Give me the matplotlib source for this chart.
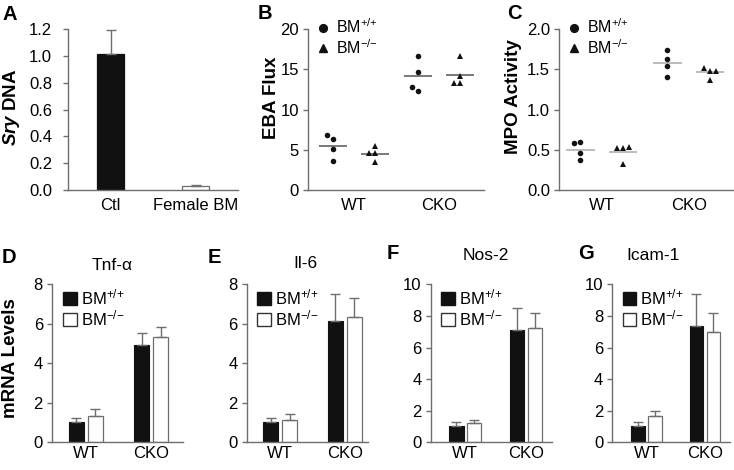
import numpy as np
import matplotlib
matplotlib.use("Agg")
import matplotlib.pyplot as plt
from matplotlib.lines import Line2D
from matplotlib.patches import Patch

plt.rcParams['font.family'] = ['Liberation Sans', 'DejaVu Sans']
plt.rcParams['mathtext.fontset'] = 'custom'
plt.rcParams['mathtext.rm'] = 'Liberation Sans'
plt.rcParams['mathtext.it'] = 'Liberation Sans:italic'
plt.rcParams['mathtext.bf'] = 'Liberation Sans:bold'
plt.rcParams['mathtext.bfit'] = 'Liberation Sans:italic:bold'

# ---- data ----
sry_groups = ['Ctl', 'Female BM']
sry_mean = [1.01, 0.03]
sry_err = [0.18, 0.01]

groups = ['WT', 'CKO']
lbl_pp = r'BM$^{{+}/{+}}$'
lbl_mm = r'BM$^{{-}/{-}}$'

# panel B, EBA flux (individual animals)
eba_pp = {'WT': [6.3, 6.8, 5.05, 3.6], 'CKO': [16.7, 14.6, 12.3, 12.8]}
eba_mm = {'WT': [5.5, 4.55, 4.55, 3.5], 'CKO': [16.6, 14.1, 13.3, 13.3]}

# panel C, MPO activity
mpo_pp = {'WT': [0.60, 0.58, 0.46, 0.37], 'CKO': [1.74, 1.63, 1.54, 1.40]}
mpo_mm = {'WT': [0.52, 0.52, 0.53, 0.32], 'CKO': [1.48, 1.51, 1.48, 1.37]}

# panels D-G, mRNA levels (mean, sem) for WT and CKO
genes = ['Tnf-α', 'Il-6', 'Nos-2', 'Icam-1']
mrna_pp = {'Tnf-α': [1.04, 4.91], 'Il-6': [1.01, 6.14],
           'Nos-2': [1.01, 7.12], 'Icam-1': [1.01, 7.33]}
mrna_pp_err = {'Tnf-α': [0.21, 0.63], 'Il-6': [0.24, 1.35],
               'Nos-2': [0.30, 1.36], 'Icam-1': [0.25, 2.04]}
mrna_mm = {'Tnf-α': [1.35, 5.35], 'Il-6': [1.11, 6.33],
           'Nos-2': [1.22, 7.26], 'Icam-1': [1.64, 6.95]}
mrna_mm_err = {'Tnf-α': [0.35, 0.47], 'Il-6': [0.31, 0.96],
               'Nos-2': [0.21, 0.91], 'Icam-1': [0.32, 1.26]}

W, H = 734, 470
fig = plt.figure(figsize=(W / 100, H / 100), dpi=100)

GRAY = '#6e6e6e'
FS = 12


def add_ax(l, t, r, b):
    return fig.add_axes([l / W, 1 - b / H, (r - l) / W, (b - t) / H])


def style(ax, xpad=5, ypad=3):
    for s in ['top', 'right']:
        ax.spines[s].set_visible(False)
    for s in ['left', 'bottom']:
        ax.spines[s].set_color(GRAY)
        ax.spines[s].set_linewidth(1.0)
    ax.tick_params(axis='x', length=0, pad=xpad, labelsize=FS)
    ax.tick_params(axis='y', length=3.5, width=1, color=GRAY, pad=ypad, labelsize=FS)


def swarm(ax, x0, ys, step_px=6.0, min_px=5.0):
    # simple beeswarm so that overlapping points are spread sideways
    px_x = ax.transData.transform((1, 0))[0] - ax.transData.transform((0, 0))[0]
    placed, xs = [], []
    for y in ys:
        yp = ax.transData.transform((0, y))[1]
        for k in [0, -1, 1, -2, 2]:
            if all(np.hypot(k * step_px - a, yp - b) >= min_px for a, b in placed):
                break
        placed.append((k * step_px, yp))
        xs.append(x0 + k * step_px / px_x)
    return xs


def letter(x, y, s):
    fig.text(x / W, 1 - y / H, s, fontsize=14.5, fontweight='bold', ha='left', va='top')


def ylab(x, y, s):
    fig.text(x / W, 1 - y / H, s, fontsize=13.5, fontweight='bold', rotation=90,
             ha='center', va='center')


# ---- A ----
ax = add_ax(68, 29, 238, 190)
style(ax, xpad=5.5, ypad=8)
xa = np.arange(len(sry_groups))
ax.bar(xa, sry_mean, width=0.32, color=['#111111', 'white'],
       edgecolor=['#111111', GRAY], linewidth=0.9)
ax.errorbar(xa, sry_mean, yerr=[np.zeros(2), sry_err], fmt='none',
            ecolor=GRAY, elinewidth=1, capsize=3.5, capthick=1)
ax.set_xlim(-0.5, 1.5)
ax.set_ylim(0, 1.2)
ax.set_yticks(np.arange(0, 1.21, 0.2))
ax.set_yticklabels(['%.1f' % v for v in np.arange(0, 1.21, 0.2)])
ax.set_xticks(xa)
ax.set_xticklabels(sry_groups)
letter(3, 5, 'A')
ylab(11, 107, r'$\mathbfit{Sry}$ DNA')


# ---- B and C ----
def dot_panel(rect, pp, mm, ylim, yticks, fmt, line_color, xlim, lab, lab_xy, let, let_xy):
    ax = add_ax(*rect)
    style(ax, xpad=5.5, ypad=3)
    ax.set_xlim(*xlim)
    ax.set_ylim(*ylim)
    for i, g in enumerate(groups):
        for vals, dx, mk in [(pp[g], -0.245, 'o'), (mm[g], 0.245, '^')]:
            x0 = i + dx
            xs = swarm(ax, x0, vals)
            ax.plot(xs, vals, mk, color='#111111', markersize=4.0 if mk == 'o' else 4.4,
                    markeredgewidth=0, zorder=3)
            ax.hlines(np.mean(vals), x0 - 0.165, x0 + 0.165, color=line_color,
                      linewidth=1.1, zorder=2)
    ax.set_yticks(yticks)
    ax.set_yticklabels([fmt % v for v in yticks])
    ax.set_xticks(range(len(groups)))
    ax.set_xticklabels(groups)
    handles = [Line2D([], [], marker='o', ls='none', color='#111111', markersize=5.6),
               Line2D([], [], marker='^', ls='none', color='#111111', markersize=5.6)]
    ax.legend(handles, [lbl_pp, lbl_mm], loc='upper left', bbox_to_anchor=(0.02, 1.09),
              frameon=False, fontsize=11.5, handlelength=1.0, handletextpad=0.35,
              labelspacing=0.1, borderpad=0.2, borderaxespad=0)
    letter(*let_xy, let)
    ylab(*lab_xy, lab)
    return ax


dot_panel((308, 29, 484, 190), eba_pp, eba_mm, (0, 20), [0, 5, 10, 15, 20], '%d',
          '#555555', (-0.54, 1.53), 'EBA Flux', (271, 98), 'B', (258, 4))
dot_panel((559, 29, 733, 190), mpo_pp, mpo_mm, (0, 2.0), [0, 0.5, 1.0, 1.5, 2.0], '%.1f',
          '#aaaaaa', (-0.49, 1.51), 'MPO Activity', (514, 97), 'C', (507, 4))

# ---- D-G ----
bar_rects = [(52, 284.3, 183, 442.3), (246.7, 284.3, 368, 442.3),
             (430.7, 284.3, 552, 442.3), (612.3, 284.3, 730, 442.3)]
bar_xlims = [(-0.52, 1.49), (-0.52, 1.36), (-0.57, 1.43), (-0.59, 1.43)]
bar_ymax = [8, 8, 10, 10]
letters = ['D', 'E', 'F', 'G']
letter_xy = [(2, 248), (208, 248), (387, 244), (578, 244)]
title_x = [112, 305, 486, 653]
title_y = [265, 263, 256, 256]

for k, gname in enumerate(genes):
    ax = add_ax(*bar_rects[k])
    style(ax, xpad=2.5, ypad=3)
    xg = np.arange(len(groups))
    off, wd = 0.145, 0.235
    ax.bar(xg - off, mrna_pp[gname], width=wd, color='#111111', edgecolor='#111111',
           linewidth=0.8, label=lbl_pp)
    ax.bar(xg + off, mrna_mm[gname], width=wd, color='white', edgecolor=GRAY,
           linewidth=0.9, label=lbl_mm)
    ax.errorbar(xg - off, mrna_pp[gname], yerr=[np.zeros(2), mrna_pp_err[gname]],
                fmt='none', ecolor=GRAY, elinewidth=1, capsize=3.5, capthick=1)
    ax.errorbar(xg + off, mrna_mm[gname], yerr=[np.zeros(2), mrna_mm_err[gname]],
                fmt='none', ecolor=GRAY, elinewidth=1, capsize=3.5, capthick=1)
    ax.set_xlim(*bar_xlims[k])
    ax.set_ylim(0, bar_ymax[k])
    ax.set_yticks(np.arange(0, bar_ymax[k] + 0.1, 2))
    ax.set_xticks(xg)
    ax.set_xticklabels(groups)
    handles = [Patch(facecolor='#111111', edgecolor='#111111'),
               Patch(facecolor='white', edgecolor='#333333', linewidth=1)]
    ax.legend(handles, [lbl_pp, lbl_mm], loc='upper left', bbox_to_anchor=(0.06, 1.0),
              frameon=False, fontsize=FS, handlelength=0.8, handleheight=0.8,
              handletextpad=0.25, labelspacing=0.05, borderpad=0.2, borderaxespad=0)
    fig.text(title_x[k] / W, 1 - title_y[k] / H, gname, fontsize=12.5, ha='center', va='center')
    letter(*letter_xy[k], letters[k])

ylab(11, 358, 'mRNA Levels')

fig.savefig('out.png', dpi=100)
